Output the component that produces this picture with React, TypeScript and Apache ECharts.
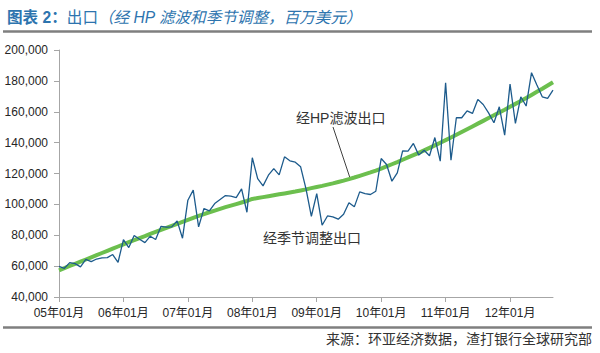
import React, { useEffect, useRef } from "react";
import * as echarts from "echarts";

const years = ["05", "06", "07", "08", "09", "10", "11", "12"];
const monthNames = ["01", "02", "03", "04", "05", "06", "07", "08", "09", "10", "11", "12"];
const LAST_MONTH_COUNT = 93; // Jan 2005 .. Sep 2012
const categories: string[] = [];
for (const y of years) {
  for (const m of monthNames) {
    if (categories.length < LAST_MONTH_COUNT) categories.push(`${y}年${m}月`);
  }
}

const yTicks = [40000, 60000, 80000, 100000, 120000, 140000, 160000, 180000, 200000];

const exportsSA = [
  59900, 58600, 62300, 61600, 59500, 64400, 62900, 64600, 65300, 65500, 67500, 62500,
  77200, 72000, 79800, 77400, 75200, 79400, 77200, 85800, 85200, 85400, 89300, 78100,
  102700, 109200, 85400, 97300, 95800, 100500, 103100, 105700, 105300, 104400, 110000, 94900,
  130200, 116700, 112000, 118900, 123200, 119100, 130800, 128200, 127300, 124300, 110000, 92300,
  107000, 86500, 92500, 91900, 90400, 93600, 101000, 98400, 108100, 107000, 106400, 108500,
  129700, 125800, 115000, 120400, 134700, 134500, 139500, 131900, 135100, 131500, 143300, 128000,
  178800, 128600, 156100, 156100, 160600, 158900, 168000, 164700, 159300, 152900, 163200, 144900,
  177900, 152400, 169700, 163700, 185300, 177300, 169700, 168600, 174000,
];

const exportsHP = [
  57300, 58700, 60100, 61500, 62900, 64300, 65700, 67100, 68500, 69900, 71300, 72700,
  74100, 75500, 76800, 78200, 79500, 80900, 82200, 83500, 84800, 86100, 87400, 88700,
  90000, 91300, 92500, 93700, 94900, 96000, 97100, 98200, 99200, 100200, 101200, 102200,
  103500, 104100, 104700, 105300, 105900, 106500, 107100, 107700, 108300, 109000, 109700, 110500,
  111300, 112000, 112800, 113600, 114500, 115400, 116400, 117400, 118500, 119600, 120700, 121900,
  123200, 124600, 126000, 127400, 128900, 130400, 131900, 133400, 135000, 136600, 138200, 139900,
  141600, 143300, 145100, 146900, 148700, 150500, 152300, 154100, 155900, 157700, 159500, 161300,
  163200, 165100, 167000, 168900, 170900, 172900, 174900, 177000, 179100,
];

const titleBold = "图表 2：";
const titleMain = "出口";
const titleSub = "（经 HP 滤波和季节调整，百万美元）";
const labelHP = "经HP滤波出口";
const labelSA = "经季节调整出口";
const sourceText = "来源：环亚经济数据，渣打银行全球研究部";

const FONT = "'Liberation Sans', Arial, 'Noto Sans CJK SC', sans-serif";

export default function App() {
  const ref = useRef<HTMLDivElement>(null);
  useEffect(() => {
    if (!ref.current) return;
    const chart = echarts.init(ref.current, undefined, { renderer: "svg" });
    chart.setOption({
      animation: false,
      backgroundColor: "#ffffff",
      textStyle: { fontFamily: FONT },
      title: {
        left: 2,
        top: 5,
        text: `{b|${titleBold}}{n|${titleMain}}{i|${titleSub}}`,
        textStyle: {
          fontWeight: "normal",
          rich: {
            b: { fontSize: 15.6, fontWeight: "bold", color: "#2d74ae", fontFamily: FONT },
            n: { fontSize: 15.6, fontWeight: "normal", color: "#2d74ae", fontFamily: FONT },
            i: { fontSize: 15.6, fontWeight: "normal", fontStyle: "italic", color: "#2d74ae", fontFamily: FONT },
          },
        },
      },
      grid: { left: 59, right: 47, top: 50, bottom: 56, containLabel: false },
      xAxis: {
        type: "category",
        data: categories,
        boundaryGap: false,
        axisLine: { lineStyle: { color: "#a6a6a6", width: 1 } },
        axisTick: {
          interval: (i: number) => i % 12 === 0,
          length: 5,
          lineStyle: { color: "#a6a6a6" },
        },
        axisLabel: {
          interval: (i: number) => i % 12 === 0,
          color: "#262626",
          fontSize: 12,
          margin: 10,
          fontFamily: FONT,
        },
        splitLine: { show: false },
      },
      yAxis: {
        type: "value",
        min: yTicks[0],
        max: yTicks[yTicks.length - 1],
        interval: 20000,
        axisLine: { show: true, lineStyle: { color: "#a6a6a6", width: 1 } },
        axisTick: { show: true, length: 5, lineStyle: { color: "#a6a6a6" } },
        axisLabel: {
          color: "#262626",
          fontSize: 12,
          margin: 11,
          fontFamily: FONT,
          formatter: (v: number) => v.toLocaleString("en-US"),
        },
        splitLine: { show: false },
      },
      series: [
        {
          name: labelHP,
          type: "line",
          data: exportsHP,
          showSymbol: false,
          symbol: "none",
          lineStyle: { color: "#6cbf4e", width: 4 },
          z: 2,
        },
        {
          name: labelSA,
          type: "line",
          data: exportsSA,
          showSymbol: false,
          symbol: "none",
          lineStyle: { color: "#1d5b8c", width: 1.3 },
          z: 3,
        },
      ],
      graphic: [
        {
          type: "line",
          shape: { x1: 3, y1: 31.5, x2: 592, y2: 31.5 },
          style: { stroke: "#7f7f7f", lineWidth: 2.5 },
        },
        {
          type: "line",
          shape: { x1: 3, y1: 327.5, x2: 592, y2: 327.5 },
          style: { stroke: "#7f7f7f", lineWidth: 2.5 },
        },
        {
          type: "text",
          right: 8,
          top: 331,
          style: { text: sourceText, fontSize: 14, fill: "#333333", fontFamily: "'Noto Sans CJK SC', sans-serif" },
        },
        {
          type: "text",
          left: 296,
          top: 111,
          style: { text: labelHP, fontSize: 14, fill: "#333333", fontFamily: FONT },
        },
        {
          type: "line",
          shape: { x1: 333, y1: 127, x2: 350, y2: 178 },
          style: { stroke: "#404040", lineWidth: 1 },
        },
        {
          type: "text",
          left: 263,
          top: 231,
          style: { text: labelSA, fontSize: 14, fill: "#333333", fontFamily: FONT },
        },
      ],
    });
    return () => chart.dispose();
  }, []);
  return (
    <div
      ref={ref}
      style={{ position: "fixed", left: 0, top: 0, width: 600, height: 353 }}
    />
  );
}
